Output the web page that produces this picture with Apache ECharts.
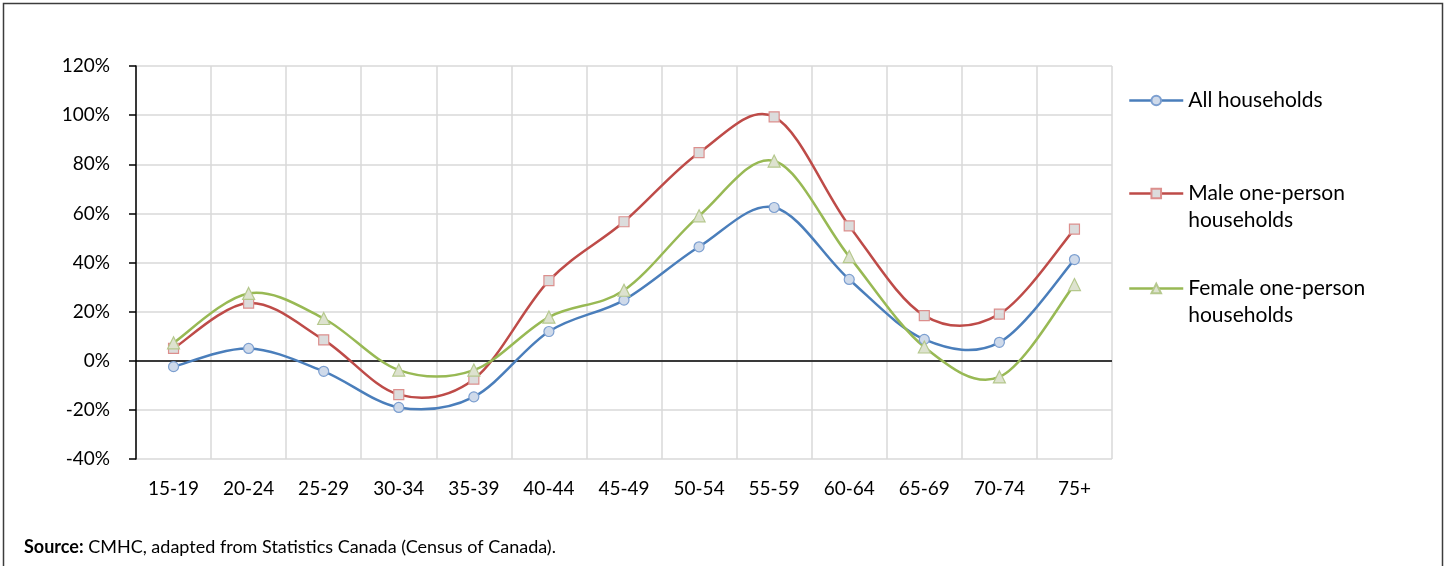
<!DOCTYPE html>
<html>
<head>
<meta charset="utf-8">
<style>
  html, body { margin: 0; padding: 0; background: #ffffff; }
  #chart { width: 1447px; height: 566px; }
</style>
<script src="https://cdn.jsdelivr.net/npm/echarts@6/dist/echarts.min.js"></script>
</head>
<body>
<div id="chart"></div>
<script>
// Age groups of the primary household maintainer
const ageGroups = ['15-19', '20-24', '25-29', '30-34', '35-39', '40-44', '45-49',
                   '50-54', '55-59', '60-64', '65-69', '70-74', '75+'];

// Percentage change by age group
const allHouseholds    = [-2.4, 5.0, -4.3, -19.0, -14.7, 11.9, 24.7, 46.4, 62.4, 33.1, 8.7, 7.5, 41.2];
const maleOnePerson    = [5.0, 23.5, 8.5, -13.8, -7.5, 32.6, 56.6, 84.7, 99.3, 54.9, 18.4, 19.0, 53.6];
const femaleOnePerson  = [7.3, 27.4, 17.2, -3.8, -3.8, 17.8, 28.7, 59.0, 81.3, 42.4, 5.6, -6.6, 31.0];

// Y axis range and step (percent)
const yMin = -40, yMax = 120, yStep = 20;

const seriesNames = ['All households', 'Male one-person households', 'Female one-person households'];
const lineColors = ['#4a7ebb', '#be4b48', '#98b954'];

const FONT = 'Lato, "Open Sans", sans-serif';

const chart = echarts.init(document.getElementById('chart'), null, { renderer: 'canvas' });

// Smooth curve through the points (Catmull-Rom converted to cubic Bezier segments),
// one segment per data item, positioned through the chart's own coordinate system.
function curveSeries(values, color) {
  const n = values.length;
  const at = j => Math.max(0, Math.min(n - 1, j));
  return {
    type: 'custom',
    silent: true,
    z: 2,
    data: values.map((v, i) => [i, v]),
    encode: { x: 0, y: 1 },
    renderItem: function (params, api) {
      const i = params.dataIndex;
      if (i >= n - 1) return null;
      const p = j => api.coord([at(j), values[at(j)]]);
      const p0 = p(i - 1), p1 = p(i), p2 = p(i + 1), p3 = p(i + 2);
      return {
        type: 'bezierCurve',
        shape: {
          x1: p1[0], y1: p1[1],
          x2: p2[0], y2: p2[1],
          cpx1: p1[0] + (p2[0] - p0[0]) / 6,
          cpy1: p1[1] + (p2[1] - p0[1]) / 6,
          cpx2: p2[0] - (p3[0] - p1[0]) / 6,
          cpy2: p2[1] - (p3[1] - p1[1]) / 6
        },
        style: { stroke: color, lineWidth: 2.5, fill: null, lineCap: 'round' }
      };
    }
  };
}

// Point markers (the curve is drawn by curveSeries)
function markerSeries(name, data, lineColor, symbol, size, fill, border) {
  return {
    name: name,
    type: 'line',
    data: data,
    symbol: symbol,
    symbolSize: size,
    showSymbol: true,
    z: 3,
    lineStyle: { color: lineColor, width: 2.5, opacity: 0 },
    itemStyle: { color: fill, borderColor: border, borderWidth: 1.2 },
    emphasis: { disabled: true }
  };
}

function legendFor(index, top) {
  return {
    data: [seriesNames[index]],
    left: 1128,
    top: top,
    padding: 0,
    orient: 'vertical',
    itemWidth: 54,
    itemHeight: 12,
    selectedMode: false,
    lineStyle: { color: lineColors[index], width: 2.5, opacity: 1 },
    formatter: function (name) {
      // two-line names keep their first line level with the icon
      return name === 'All households' ? name : '\u00a0\n' + name.replace(' households', '\nhouseholds');
    },
    textStyle: { color: '#000', fontSize: 21, fontFamily: FONT, lineHeight: 27 }
  };
}

const option = {
  animation: false,
  backgroundColor: '#ffffff',
  grid: { left: 136, right: 335, top: 66, bottom: 107, containLabel: false },
  xAxis: {
    type: 'category',
    data: ageGroups,
    boundaryGap: true,
    axisLine: { show: false },
    axisTick: { show: false },
    axisLabel: { interval: 0, color: '#000', fontSize: 19, fontFamily: FONT, margin: 20 },
    splitLine: { show: true, interval: 0, lineStyle: { color: '#d9d9d9', width: 1.5 } }
  },
  yAxis: {
    type: 'value',
    min: yMin,
    max: yMax,
    interval: yStep,
    axisLine: { show: true, lineStyle: { color: '#000', width: 1.5 } },
    axisTick: { show: true, length: 7, lineStyle: { color: '#000', width: 1.5 } },
    axisLabel: { color: '#000', fontSize: 19, fontFamily: FONT, margin: 26, formatter: '{value}%' },
    splitLine: { show: true, lineStyle: { color: '#d9d9d9', width: 1.5 } }
  },
  legend: [legendFor(0, 87), legendFor(1, 153), legendFor(2, 248)],
  series: [
    curveSeries(allHouseholds, lineColors[0]),
    curveSeries(maleOnePerson, lineColors[1]),
    curveSeries(femaleOnePerson, lineColors[2]),
    Object.assign(markerSeries(seriesNames[0], allHouseholds, lineColors[0], 'circle', 10, '#cfdaea', '#7c9fd0'), {
      markLine: {
        silent: true,
        symbol: 'none',
        z: 1,
        label: { show: false },
        lineStyle: { color: '#000', width: 1.5, type: 'solid', opacity: 1 },
        data: [{ yAxis: 0 }]
      }
    }),
    markerSeries(seriesNames[1], maleOnePerson, lineColors[1], 'rect', 10, '#dcdcdc', '#dc8f8d'),
    markerSeries(seriesNames[2], femaleOnePerson, lineColors[2], 'triangle', 12, '#dde2cf', '#b5c88d')
  ],
  graphic: [
    {
      type: 'rect',
      silent: true,
      shape: { x: 3.5, y: 3.5, width: 1439, height: 620 },
      style: { fill: 'none', stroke: '#3c3c3c', lineWidth: 1.5 }
    },
    {
      type: 'text',
      left: 24,
      top: 538,
      silent: true,
      style: {
        text: '{b|Source:} CMHC, adapted from Statistics Canada (Census of Canada).',
        fontSize: 18,
        fontFamily: FONT,
        fill: '#000',
        rich: {
          b: { fontWeight: 'bold', fontSize: 18, fontFamily: FONT, fill: '#000' }
        }
      }
    }
  ]
};

chart.setOption(option);
</script>
</body>
</html>
